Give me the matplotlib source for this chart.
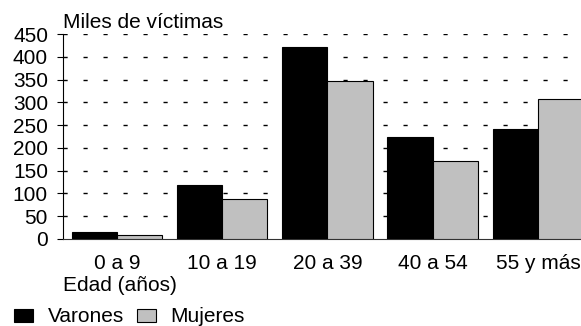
import numpy as np
import matplotlib.pyplot as plt
from matplotlib.patches import Rectangle

plt.rcParams['font.family'] = ['Liberation Sans', 'DejaVu Sans']

# Data (thousands of victims)
categories = ['0 a 9', '10 a 19', '20 a 39', '40 a 54', '55 y más']
varones = [16, 118, 421, 224, 241]
mujeres = [8, 88, 347, 171, 307]
yticks = [0, 50, 100, 150, 200, 250, 300, 350, 400, 450]
legend_labels = ['Varones', 'Mujeres']
colors = ['black', '#c0c0c0']

FS = 15
W, H = 581, 326
fig = plt.figure(figsize=(W / 100, H / 100), dpi=100)
ax = fig.add_axes([63 / W, (H - 239) / H, 518 / W, 205 / H])

x = np.arange(len(categories))
bw = 0.43
ax.bar(x - bw / 2, varones, bw, color=colors[0], edgecolor='black', linewidth=0.8, zorder=3)
ax.bar(x + bw / 2, mujeres, bw, color=colors[1], edgecolor='black', linewidth=0.8, zorder=3)

ax.set_xlim(-0.513, 4.409)
ax.set_ylim(0, 450)
ax.set_yticks(yticks)
ax.set_xticks(x)
ax.set_xticklabels(categories, fontsize=FS)
ax.tick_params(axis='y', labelsize=FS, length=4.3, width=0.8, pad=6.5, direction='out')
ax.tick_params(axis='x', length=0, pad=11)

for y in yticks[1:]:
    ax.axhline(y, color='black', linewidth=1, linestyle=(0, (3, 11.4)), zorder=1)

for s in ['top', 'right']:
    ax.spines[s].set_visible(False)
ax.spines['left'].set_linewidth(0.8)
ax.spines['bottom'].set_linewidth(0.8)
ax.spines['bottom'].set_color('#333333')

fig.text(63 / W, 1 - 28.3 / H, 'Miles de víctimas', fontsize=FS, ha='left', va='baseline')
fig.text(63 / W, 1 - 291 / H, 'Edad (años)', fontsize=FS, ha='left', va='baseline')

# legend drawn by hand to sit at the very bottom
box_x = [14, 137]
text_x = [48, 170]
for bx, tx, c, lab in zip(box_x, text_x, colors, legend_labels):
    fig.patches.append(Rectangle((bx / W, (H - 322) / H), 19 / W, 13 / H,
                                 transform=fig.transFigure, facecolor=c,
                                 edgecolor='black', linewidth=0.8))
    fig.text(tx / W, 1 - 322 / H, lab, fontsize=FS, ha='left', va='baseline')

fig.savefig('out.png', dpi=100)
